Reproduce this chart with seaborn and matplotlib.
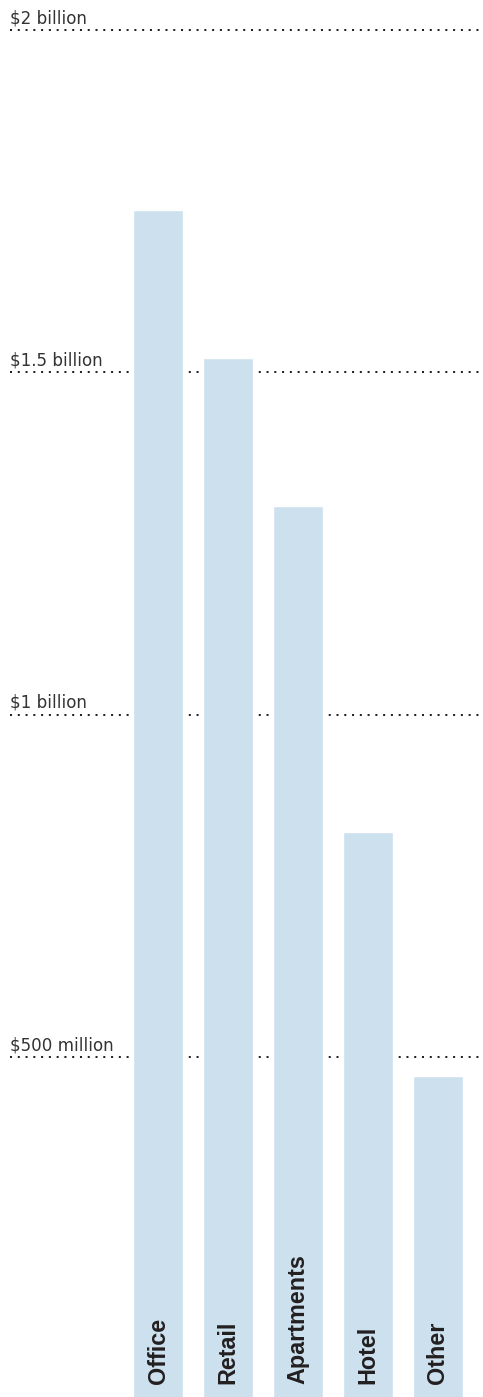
import matplotlib
matplotlib.use("Agg")
import matplotlib.pyplot as plt
import matplotlib.transforms as mtransforms
import seaborn as sns
import pandas as pd

categories = ["Office", "Retail", "Apartments", "Hotel", "Other"]
values = [1737, 1521, 1305, 829, 472]  # millions of dollars
tick_values = [500, 1000, 1500, 2000]
tick_labels = ["$500 million", "$1 billion", "$1.5 billion", "$2 billion"]

sns.set_theme(style="white")
plt.rcParams["font.family"] = ["DejaVu Sans"]

W, H = 483, 1397
fig = plt.figure(figsize=(W / 100, H / 100), dpi=100)
ax = fig.add_axes([10 / W, 0, 473 / W, 1])

df = pd.DataFrame({"category": categories, "value": values})
sns.barplot(data=df, x="category", y="value", color="#cce0ee", saturation=1,
            width=50 / 70, ax=ax, zorder=3)

ax.set_xlim((10 - 158) / 70, (483 - 158) / 70)
ax.set_ylim(3.4, 2044)

for s in ax.spines.values():
    s.set_visible(False)
ax.set_xlabel("")
ax.set_ylabel("")
ax.set_xticks([])
ax.set_yticks([])

for v in tick_values:
    ax.axhline(v, color="#222222", linewidth=1.45, linestyle=(0, (1, 2.86)),
               dash_capstyle="butt", zorder=1)

trans = mtransforms.blended_transform_factory(ax.transAxes, ax.transData)
for v, lab in zip(tick_values, tick_labels):
    ax.text(0, v + 500 * 7 / 342.3, lab, transform=trans, ha="left", va="baseline",
            fontsize=12.1, color="#333333")

for i, c in enumerate(categories):
    ax.text(i, 22, c, rotation=90, ha="center", va="bottom", fontsize=16.8,
            fontweight="bold", color="#231f20", family=["Liberation Sans", "DejaVu Sans"],
            zorder=4)

fig.savefig("out.png", dpi=100)
